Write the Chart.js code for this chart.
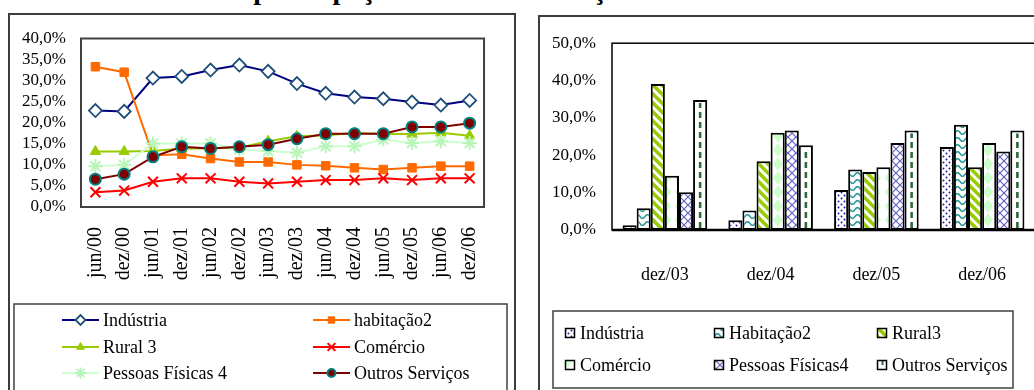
<!DOCTYPE html>
<html><head><meta charset="utf-8">
<script src="https://cdn.jsdelivr.net/npm/chart.js@4.4.1/dist/chart.umd.min.js"></script>
<style>
html,body{margin:0;padding:0;background:#fff;width:1034px;height:390px;overflow:hidden;position:relative;}
.title{position:absolute;top:-24px;left:93px;font:bold 28px "Liberation Serif";line-height:28px;white-space:nowrap;color:#000;}
.panel{position:absolute;border:2px solid #3c3c3c;box-sizing:border-box;background:#fff;}
#p1{left:8px;top:13px;width:508px;height:400px;}
#p2{left:538px;top:15px;width:520px;height:400px;}
canvas{display:block;}
</style></head>
<body>
<div class="title">Estrutura de participação total e distribuição</div>
<div class="panel" id="p1"><canvas id="c1" width="504" height="386"></canvas></div>
<div class="panel" id="p2"><canvas id="c2" width="516" height="386"></canvas></div>
<script>
// ---- Line chart data ----
const lineLabels = ['jun/00','dez/00','jun/01','dez/01','jun/02','dez/02','jun/03','dez/03','jun/04','dez/04','jun/05','dez/05','jun/06','dez/06'];
const industria = [22.9,22.7,30.6,31.0,32.5,33.7,32.2,29.3,27.0,26.1,25.7,24.9,24.2,25.3];
const habitacao = [33.3,32.0,12.3,12.5,11.5,10.7,10.7,10.0,9.8,9.3,8.9,9.3,9.7,9.7];
const rural = [13.2,13.2,13.3,13.9,13.9,14.1,15.6,16.8,17.0,17.6,17.3,17.3,17.6,16.9];
const comercio = [3.5,3.9,6.0,6.8,6.8,6.0,5.6,6.0,6.4,6.4,6.8,6.4,6.8,6.8];
const pessoas = [9.7,10.0,15.1,15.1,15.1,13.7,13.3,12.9,14.4,14.4,16.0,15.2,15.6,15.2];
const outros = [6.6,7.8,11.9,14.3,13.9,14.3,14.8,16.2,17.4,17.4,17.4,19.0,19.0,19.9];
const lineNames = ['Indústria','habitação2','Rural 3','Comércio','Pessoas Físicas 4','Outros Serviços'];

// ---- Bar chart data ----
const barLabels = ['dez/03','dez/04','dez/05','dez/06'];
const bIndustria = [1.3,2.6,10.7,22.2];
const bHabitacao = [5.8,5.2,16.2,28.2];
const bRural = [39.1,18.4,15.5,16.8];
const bComercio = [14.5,26.0,16.8,23.3];
const bPessoas = [10.1,26.6,23.3,21.0];
const bOutros = [34.8,22.7,26.6,26.6];
const barNames = ['Indústria','Habitação2','Rural3','Comércio','Pessoas Físicas4','Outros Serviços'];

const SERIF = '"Liberation Serif", "Times New Roman", serif';
const pctFmt = v => Number(v).toFixed(1).replace('.', ',') + '%';

function ptDraw(ctx, style, r, x, y, bw){
  if (Chart.helpers && Chart.helpers.drawPoint){
    Chart.helpers.drawPoint(ctx, {pointStyle: style, radius: r, borderWidth: bw, rotation: 0}, x, y);
  }
}

// ===== Line chart =====
const lineStyles = [
  {c:'#000080', ps:'rectRot', r:6.5, bg:'#ffffff', bc:'#1f4e79', bw:1.8},
  {c:'#ff6a00', ps:'rect', r:6, bg:'#ff6a00', bc:'#ff6a00', bw:1},
  {c:'#99cc00', ps:'triangle', r:6, bg:'#99cc00', bc:'#99cc00', bw:1},
  {c:'#ff0000', ps:'crossRot', r:7, bg:'#ff0000', bc:'#ff0000', bw:2},
  {c:'#ccffcc', ps:'star', r:7, bg:'#ccffcc', bc:'#b8f5b8', bw:2},
  {c:'#800000', ps:'circle', r:5.5, bg:'#800000', bc:'#008080', bw:2}
];
const lineSeries = [industria, habitacao, rural, comercio, pessoas, outros];

const frame1 = {
  id:'frame1',
  afterDatasetsDraw(chart){
    const {ctx, chartArea:a} = chart;
    ctx.save();
    ctx.strokeStyle = '#404040'; ctx.lineWidth = 2;
    ctx.strokeRect(a.left, a.top, a.right - a.left, a.bottom - a.top);
    ctx.restore();
  },
  afterDraw(chart){
    const ctx = chart.ctx;
    ctx.save();
    ctx.strokeStyle = '#404040'; ctx.lineWidth = 1.5;
    ctx.strokeRect(4, 289, 493, 140);
    ctx.font = '18px ' + SERIF; ctx.fillStyle = '#000'; ctx.textBaseline = 'middle';
    const cols = [[52, 89, 93],[303, 340, 344]];
    const rows = [305, 332, 358];
    lineNames.forEach((n, i) => {
      const col = cols[i % 2], y = rows[Math.floor(i / 2)], s = lineStyles[i];
      ctx.strokeStyle = s.c; ctx.lineWidth = 2;
      ctx.beginPath(); ctx.moveTo(col[0], y); ctx.lineTo(col[1], y); ctx.stroke();
      ctx.fillStyle = s.bg; ctx.strokeStyle = s.bc; ctx.lineWidth = s.bw;
      ptDraw(ctx, s.ps, s.r - 1.5, (col[0] + col[1]) / 2, y, s.bw);
      ctx.fillStyle = '#000';
      ctx.fillText(n, col[2], y + 1);
    });
    ctx.restore();
  }
};

new Chart(document.getElementById('c1'), {
  type: 'line',
  data: {
    labels: lineLabels,
    datasets: lineSeries.map((d, i) => ({
      label: lineNames[i], data: d, order: 5 - i,
      borderColor: lineStyles[i].c, borderWidth: 2, tension: 0,
      pointStyle: lineStyles[i].ps, pointRadius: lineStyles[i].r,
      pointBackgroundColor: lineStyles[i].bg, pointBorderColor: lineStyles[i].bc,
      pointBorderWidth: lineStyles[i].bw, fill: false
    }))
  },
  options: {
    responsive: false, animation: false,
    layout: {padding: {top: 21, right: 10, left: 0, bottom: 0}},
    plugins: {legend: {display: false}, tooltip: {enabled: false}},
    scales: {
      x: {
        offset: true,
        grid: {display: false, drawTicks: false},
        border: {display: false},
        ticks: {autoSkip: false, maxRotation: 90, minRotation: 90, padding: 20, color: '#000', font: {family: SERIF, size: 20}},
        afterFit(s){ s.height = 194; }
      },
      y: {
        min: 0, max: 40,
        grid: {display: false, drawTicks: false},
        border: {display: false},
        ticks: {stepSize: 5, autoSkip: false, padding: 15, color: '#000', font: {family: SERIF, size: 17, lineHeight: 1}, callback: pctFmt},
        afterFit(s){ s.width = 71; }
      }
    }
  },
  plugins: [frame1]
});

// ===== Bar chart =====
const ctx2 = document.getElementById('c2').getContext('2d');
function makePattern(w, h, draw){
  const t = document.createElement('canvas'); t.width = w; t.height = h;
  const g = t.getContext('2d');
  g.fillStyle = '#fff'; g.fillRect(0, 0, w, h);
  draw(g, w, h);
  return ctx2.createPattern(t, 'repeat');
}
const patDots = makePattern(6, 6, g => {
  g.fillStyle = '#1a1aa8';
  [[1.5,1.5],[4.5,4.5]].forEach(p => { g.beginPath(); g.arc(p[0], p[1], 0.95, 0, Math.PI*2); g.fill(); });
});
const patWave = makePattern(10, 7, g => {
  g.strokeStyle = '#2e9999'; g.lineWidth = 1.6; g.beginPath();
  for (let x = -1; x <= 11; x += 0.5){ const y = 3.5 + 1.8*Math.sin(2*Math.PI*x/10); x === -1 ? g.moveTo(x, y) : g.lineTo(x, y); }
  g.stroke();
});
const patStripe = makePattern(9, 9, g => {
  g.strokeStyle = '#99cc00'; g.lineWidth = 3.6;
  for (let k = -1; k <= 1; k++){ g.beginPath(); g.moveTo(k*9 - 2, -2); g.lineTo(k*9 + 11, 11); g.stroke(); }
});
const patDiamond = makePattern(14, 14, g => {
  g.fillStyle = '#ccffcc';
  g.beginPath(); g.moveTo(0, 0); g.lineTo(5, 7); g.lineTo(0, 14); g.closePath(); g.fill();
  g.beginPath(); g.moveTo(14, 0); g.lineTo(9, 7); g.lineTo(14, 14); g.closePath(); g.fill();
});
const patCross = makePattern(8, 8, g => {
  g.strokeStyle = '#6262c8'; g.lineWidth = 1.2;
  g.beginPath(); g.moveTo(-1, -1); g.lineTo(9, 9); g.moveTo(9, -1); g.lineTo(-1, 9); g.stroke();
});
const barFills = [patDots, patWave, patStripe, patDiamond, patCross, '#ffffff'];
const barSeries = [bIndustria, bHabitacao, bRural, bComercio, bPessoas, bOutros];

const frame2 = {
  id:'frame2',
  afterDatasetsDraw(chart){
    const {ctx, chartArea:a} = chart;
    ctx.save();
    const meta = chart.getDatasetMeta(5);
    ctx.strokeStyle = '#2f6a3a'; ctx.lineWidth = 2.6; ctx.setLineDash([6, 4]);
    meta.data.forEach(el => {
      ctx.beginPath(); ctx.moveTo(el.x, el.base - 2); ctx.lineTo(el.x, el.y + 3); ctx.stroke();
    });
    ctx.setLineDash([]);
    ctx.strokeStyle = '#000'; ctx.lineWidth = 1.5;
    ctx.strokeRect(a.left, a.top, a.right - a.left, a.bottom - a.top);
    ctx.lineWidth = 2.5;
    ctx.beginPath(); ctx.moveTo(a.left, a.bottom); ctx.lineTo(a.right, a.bottom); ctx.stroke();
    ctx.restore();
  },
  afterDraw(chart){
    const ctx = chart.ctx;
    ctx.save();
    ctx.strokeStyle = '#404040'; ctx.lineWidth = 1.5;
    ctx.strokeRect(13, 294, 460, 77);
    ctx.font = '18px ' + SERIF; ctx.textBaseline = 'middle';
    const cols = [[30, 40],[179, 189],[342, 352]];
    const rows = [316, 348];
    barNames.forEach((n, i) => {
      const col = cols[i % 3], y = rows[Math.floor(i / 3)];
      ctx.fillStyle = barFills[i];
      ctx.fillRect(col[0] - 4.5, y - 4.5, 9, 9);
      if (i === 5){ ctx.fillStyle = '#2f6a3a'; ctx.fillRect(col[0] - 0.5, y - 4, 2, 4); }
      ctx.strokeStyle = '#000'; ctx.lineWidth = 1.5;
      ctx.strokeRect(col[0] - 4.5, y - 4.5, 9, 9);
      ctx.fillStyle = '#000';
      ctx.fillText(n, col[1], y + 1);
    });
    ctx.restore();
  }
};

new Chart(ctx2, {
  type: 'bar',
  data: {
    labels: barLabels,
    datasets: barSeries.map((d, i) => ({
      label: barNames[i], data: d,
      backgroundColor: barFills[i], borderColor: '#000', borderWidth: 2, borderSkipped: false,
      barPercentage: 1.0, categoryPercentage: 0.8
    }))
  },
  options: {
    responsive: false, animation: false,
    layout: {padding: {top: 25, right: 21, left: 0, bottom: 0}},
    plugins: {legend: {display: false}, tooltip: {enabled: false}},
    scales: {
      x: {
        grid: {display: false, drawTicks: false},
        border: {display: false},
        ticks: {padding: 34, color: '#000', font: {family: SERIF, size: 18}},
        afterFit(s){ s.height = 173; }
      },
      y: {
        min: 0, max: 50,
        grid: {display: false, drawTicks: false},
        border: {display: false},
        ticks: {stepSize: 10, autoSkip: false, padding: 16, color: '#000', font: {family: SERIF, size: 17}, callback: pctFmt},
        afterFit(s){ s.width = 72; }
      }
    }
  },
  plugins: [frame2]
});
</script>
</body></html>
